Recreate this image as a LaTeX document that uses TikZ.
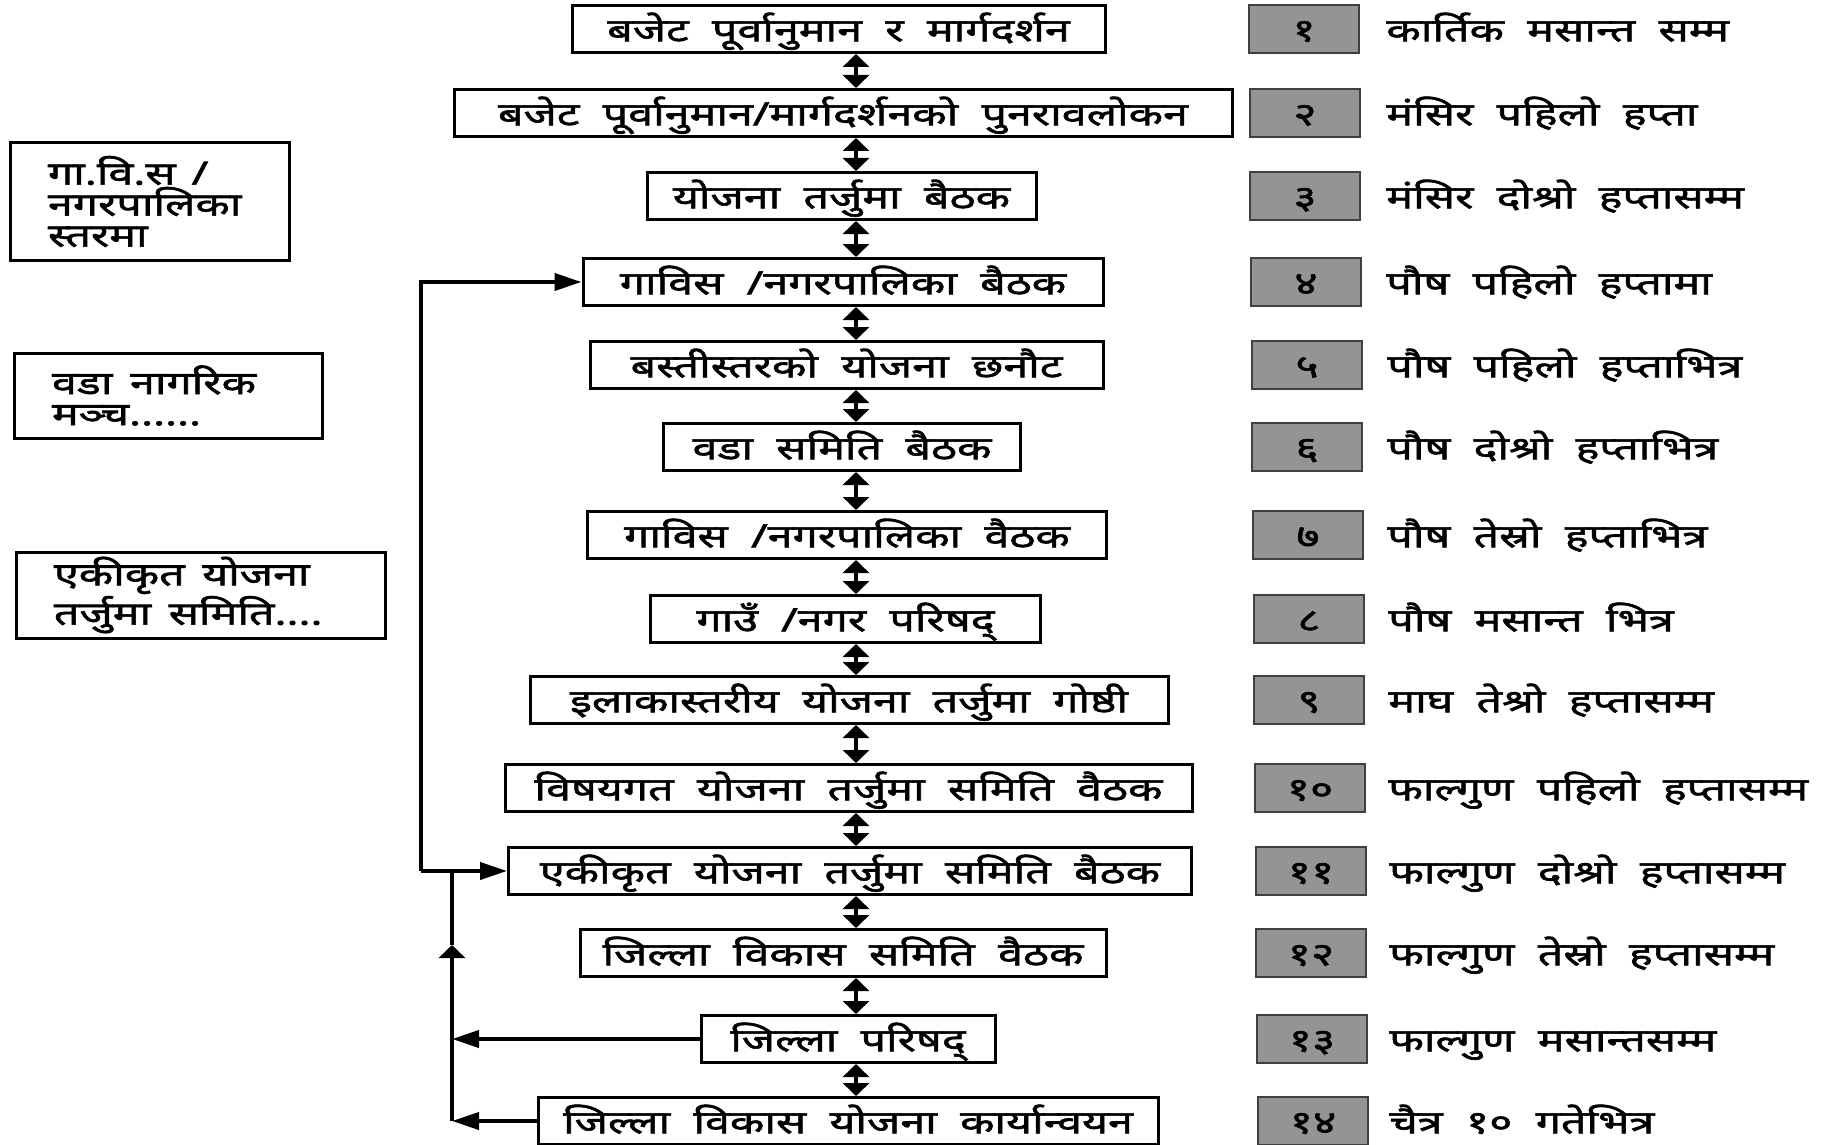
\documentclass[tikz,border=0pt]{standalone}
\usepackage{fontspec}
\newfontfamily\dev[Script=Devanagari, FakeBold=1.8, FakeStretch=1.4, WordSpace=2.0]{Noto Sans}
\usetikzlibrary{arrows.meta}
\begin{document}
\begin{tikzpicture}[x=0.5pt,y=-0.5pt,
  txt/.style={font=\dev\fontsize{16}{15.5}\selectfont, text height=12.3pt, text depth=0pt},
  cbox/.style={txt, draw, line width=1.5pt, inner sep=0pt, minimum height=23.5pt},
  lbox/.style={font=\dev\fontsize{16}{15.5}\selectfont, draw, line width=1.5pt, inner xsep=19pt, inner ysep=0pt, align=left},
  nbox/.style={txt, draw=black!75, fill=black!42, line width=1pt, inner sep=0pt, minimum width=55pt, minimum height=24pt},
  rtext/.style={txt, anchor=west, inner sep=0pt},
  conn/.style={line width=2pt},
  hhead/.tip={Triangle[length=13.5pt,width=8.5pt]},
  vhead/.tip={Triangle[length=6.5pt,width=13pt]},
  dbl/.style={conn, vhead-vhead}
]
\useasboundingbox (0,0) rectangle (1827,1145);
\fill[white] (0,0) rectangle (1827,1145);

% central column
\node[cbox, minimum width=266.5pt] (b1) at (838.5,29) {बजेट पूर्वानुमान र मार्गदर्शन};
\node[cbox, minimum width=389pt] (b2) at (843,113) {बजेट पूर्वानुमान/मार्गदर्शनको पुनरावलोकन};
\node[cbox, minimum width=194.5pt] (b3) at (841.5,196) {योजना तर्जुमा बैठक};
\node[cbox, minimum width=260pt] (b4) at (843,282) {गाविस /नगरपालिका बैठक};
\node[cbox, minimum width=256.5pt] (b5) at (846.5,365) {बस्तीस्तरको योजना छनौट};
\node[cbox, minimum width=178.5pt] (b6) at (842,447) {वडा समिति बैठक};
\node[cbox, minimum width=259.5pt] (b7) at (847,535) {गाविस /नगरपालिका वैठक};
\node[cbox, minimum width=195pt] (b8) at (845.5,619) {गाउँ /नगर परिषद्};
\node[cbox, minimum width=319pt] (b9) at (849,700) {इलाकास्तरीय योजना तर्जुमा गोष्ठी};
\node[cbox, minimum width=343.5pt] (b10) at (848.5,788) {विषयगत योजना तर्जुमा समिति वैठक};
\node[cbox, minimum width=341.5pt] (b11) at (850,871) {एकीकृत योजना तर्जुमा समिति बैठक};
\node[cbox, minimum width=263pt] (b12) at (843,953) {जिल्ला विकास समिति वैठक};
\node[cbox, minimum width=147pt] (b13) at (848,1039) {जिल्ला परिषद्};
\node[cbox, minimum width=310pt] (b14) at (848,1121) {जिल्ला विकास योजना कार्यान्वयन};

% left boxes
\node[lbox, text width=101.5pt, minimum height=58.5pt] (l1) at (149.5,201.5) {गा.वि.स\hspace{0.5em}/\\ नगरपालिका\\ स्तरमा};
\node[lbox, text width=116pt, minimum height=42.5pt] (l2) at (168,395.5) {वडा\hspace{0.55em}नागरिक\\ मञ्च......};
\node[lbox, text width=146.5pt, minimum height=43pt] (l3) at (200.5,595) {एकीकृत\hspace{0.55em}योजना\\ तर्जुमा\hspace{0.55em}समिति....};

% number boxes
\node[nbox] (n1) at (1304,29) {१};
\node[nbox] (n2) at (1305,113) {२};
\node[nbox] (n3) at (1305,196) {३};
\node[nbox] (n4) at (1306,282) {४};
\node[nbox] (n5) at (1307,365) {५};
\node[nbox] (n6) at (1307,447) {६};
\node[nbox] (n7) at (1308,535) {७};
\node[nbox] (n8) at (1309,619) {८};
\node[nbox] (n9) at (1309,700) {९};
\node[nbox] (n10) at (1310,788) {१०};
\node[nbox] (n11) at (1311,871) {११};
\node[nbox] (n12) at (1311,953) {१२};
\node[nbox] (n13) at (1312,1039) {१३};
\node[nbox] (n14) at (1313,1121) {१४};

% right texts
\node[rtext] (r1) at (1386,29) {कार्तिक मसान्त सम्म};
\node[rtext] (r2) at (1386,113) {मंसिर पहिलो हप्ता};
\node[rtext] (r3) at (1386,196) {मंसिर दोश्रो हप्तासम्म};
\node[rtext] (r4) at (1386,282) {पौष पहिलो हप्तामा};
\node[rtext] (r5) at (1387,365) {पौष पहिलो हप्ताभित्र};
\node[rtext] (r6) at (1387,447) {पौष दोश्रो हप्ताभित्र};
\node[rtext] (r7) at (1387,535) {पौष तेस्रो हप्ताभित्र};
\node[rtext] (r8) at (1388,619) {पौष मसान्त भित्र};
\node[rtext] (r9) at (1388,700) {माघ तेश्रो हप्तासम्म};
\node[rtext] (r10) at (1388,788) {फाल्गुण पहिलो हप्तासम्म};
\node[rtext] (r11) at (1389,871) {फाल्गुण दोश्रो हप्तासम्म};
\node[rtext] (r12) at (1389,953) {फाल्गुण तेस्रो हप्तासम्म};
\node[rtext] (r13) at (1389,1039) {फाल्गुण मसान्तसम्म};
\node[rtext] (r14) at (1389,1121) {चैत्र १० गतेभित्र};

% vertical double arrows
\coordinate (ax) at (856,0);
\foreach \a/\b in {b1/b2,b2/b3,b3/b4,b4/b5,b5/b6,b6/b7,b7/b8,b8/b9,b9/b10,b10/b11,b11/b12,b12/b13,b13/b14}
  \draw[dbl] (\a.south -| ax) -- (\b.north -| ax);

% left feedback lines
\coordinate (xa) at (421,0);
\coordinate (xb) at (452,0);
\coordinate (up) at (452,945);
\draw[conn, -hhead] (b11.west -| xa) -- (b4.west -| xa) -- (b4.west);
\draw[conn, -hhead] (b11.west -| xa) -- (b11.west);
\draw[conn, -vhead] (b14.west -| xb) -- (up);
\draw[conn] (up) -- (b11.west -| xb);
\draw[conn, -hhead] (b13.west) -- (b13.west -| xb);
\draw[conn, -hhead] (b14.west) -- (b14.west -| xb);
\end{tikzpicture}
\end{document}
